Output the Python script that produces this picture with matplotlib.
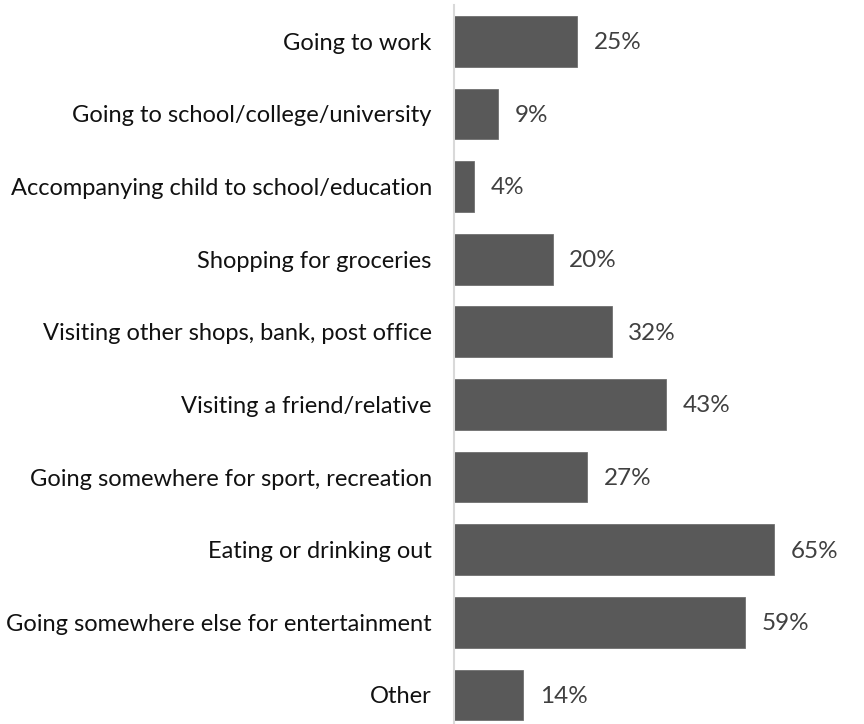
import matplotlib.pyplot as plt

plt.rcParams['font.family'] = ['Lato', 'DejaVu Sans']

purposes = ['Going to work',
            'Going to school/college/university',
            'Accompanying child to school/education',
            'Shopping for groceries',
            'Visiting other shops, bank, post office',
            'Visiting a friend/relative',
            'Going somewhere for sport, recreation',
            'Eating or drinking out',
            'Going somewhere else for entertainment',
            'Other']
shares = [25, 9, 4, 20, 32, 43, 27, 65, 59, 14]

fig = plt.figure(figsize=(8.64, 7.24), dpi=100)
ax = fig.add_axes([454/864, 0, 1 - 454/864, 1 - 5/724])

pos = list(range(len(purposes)))
ax.barh(pos, shares, height=0.70, color='#595959', edgecolor='#707070', linewidth=0.6)

for y, v in zip(pos, shares):
    ax.annotate(f'{v}%', (v, y), xytext=(12, -1), textcoords='offset points',
                va='center', ha='left', fontsize=17.5, color='#404040')

ax.set_yticks(pos)
ax.set_yticklabels(purposes, fontsize=17, color='#111111')
ax.tick_params(axis='y', length=0, pad=16)
ax.set_xticks([])
ax.set_xlim(0, 83.2)
ax.set_ylim(9.4, -0.5)

for s in ['top', 'right', 'bottom']:
    ax.spines[s].set_visible(False)
ax.spines['left'].set_color('#d9d9d9')
ax.spines['left'].set_linewidth(1.5)

fig.savefig('out.png', dpi=100)
